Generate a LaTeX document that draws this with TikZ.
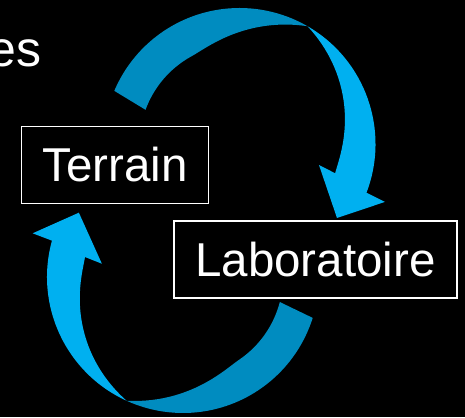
\documentclass[tikz,border=0pt]{standalone}
\usepackage{fontspec}
\setmainfont{Liberation Sans}
\usetikzlibrary{positioning}
\definecolor{ribbonlight}{RGB}{0,176,240}
\definecolor{ribbondark}{RGB}{0,140,192}
\tikzset{
	x=1pt, y=1pt,
	every node/.style={text=white},
	place/.style={draw=white, line width=1.5pt, font=\fontsize{47.5}{52}\selectfont, minimum height=77pt, inner sep=0pt},
	back/.style={fill=ribbondark},
	front/.style={fill=ribbonlight}}
\newcommand{\bentarrow}[2]{%
	\begin{scope}[shift={(#1)}, rotate=#2]
		\fill[back] (157:136) arc[start angle=157, end angle=60, radius=136]
		-- plot[domain=60:160, samples=40] (\x:{100+36*max(0,(118-\x)/58)*sqrt(max(0,(118-\x)/58))}) -- cycle;
		\fill[front] (60:136) arc[start angle=60, end angle=-21, radius=136]
		-- (-21.7:156.6) -- (-37.2:122.4) -- (-14.8:82.2) -- (-17:100)
		-- plot[domain=-17:60, samples=40] (\x:{100+36*max(0,(\x+15)/75)*sqrt(max(0,(\x+15)/75))}) -- cycle;
	\end{scope}}

\begin{document}
\begin{tikzpicture}
	\fill[black] (0,0) rectangle (465,417);
	\clip (0,0) rectangle (465,417);
	\coordinate (top) at (239.5,273);
	\coordinate (bottom) at (183,140);
	\bentarrow{top}{0}
	\bentarrow{bottom}{185.5}
	\node[anchor=base west, font=\fontsize{50}{56}\selectfont] (es) at (-15,350) {es};
	\node[place, minimum width=187pt] (terrain) at (115,252) {Terrain};
	\node[place, minimum width=283pt, below right=16pt and -36pt of terrain] (labo) {Laboratoire};
\end{tikzpicture}
\end{document}
